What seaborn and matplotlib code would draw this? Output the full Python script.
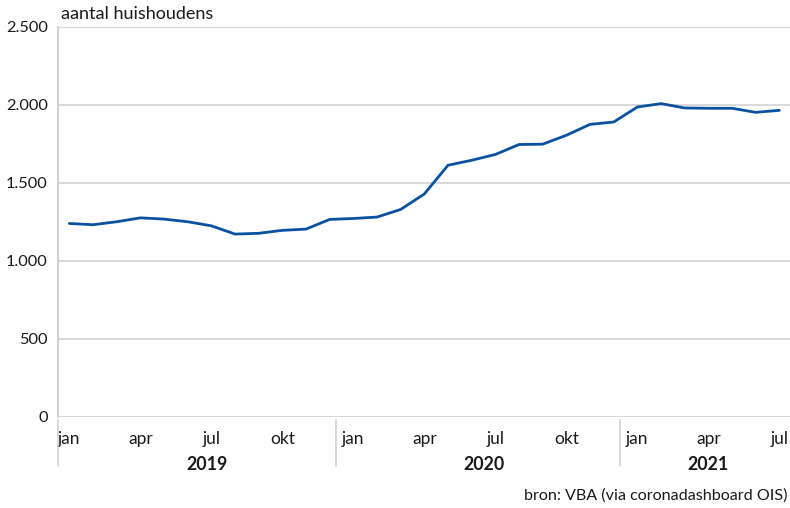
import numpy as np
import pandas as pd
import matplotlib.pyplot as plt
import matplotlib.transforms as mtransforms
import seaborn as sns

jaren = ['2019'] * 12 + ['2020'] * 12 + ['2021'] * 7
maanden = ['jan', 'feb', 'mrt', 'apr', 'mei', 'jun', 'jul', 'aug', 'sep', 'okt', 'nov', 'dec'] * 2 + \
          ['jan', 'feb', 'mrt', 'apr', 'mei', 'jun', 'jul']
huishoudens = [1238, 1230, 1249, 1274, 1266, 1249, 1223, 1170, 1175, 1194, 1202, 1264,
               1270, 1279, 1328, 1427, 1611, 1643, 1680, 1744, 1746, 1803, 1873, 1888,
               1984, 2006, 1978, 1976, 1976, 1950, 1963]
getoonde_maanden = ['jan', 'apr', 'jul', 'okt']
y_ticks = [0, 500, 1000, 1500, 2000, 2500]

df = pd.DataFrame({'jaar': jaren, 'maand': maanden, 'aantal': huishoudens})
df['pos'] = np.arange(len(df))

sns.set_style('white')
plt.rcParams['font.family'] = ['Lato', 'DejaVu Sans']

fig = plt.figure(figsize=(7.9, 5.08), dpi=100)
ax = fig.add_axes([57.5 / 790, 1 - 416.7 / 508, 1 - 57.5 / 790, (416.7 - 26.5) / 508])

sns.lineplot(data=df, x='pos', y='aantal', color='#0a52a1', linewidth=2.0, ax=ax)

grid_kleur = '#d2d2d2'
ax.set_ylim(0, 2500)
ax.set_xlim(-0.5, 30.45)
ax.set_yticks(y_ticks)
ax.set_yticklabels([f'{v:,}'.replace(',', '.') for v in y_ticks])
ax.yaxis.grid(True, color=grid_kleur, linewidth=1.2)
ax.set_axisbelow(True)
for s in ['top', 'right', 'bottom']:
    ax.spines[s].set_visible(False)
ax.spines['left'].set_color(grid_kleur)
ax.spines['left'].set_linewidth(1.4)
ax.tick_params(axis='y', length=0, pad=7, labelsize=11.8, labelcolor='#1a1a1a')

sel = df[df['maand'].isin(getoonde_maanden)]
ax.set_xticks(sel['pos'])
ax.set_xticklabels(sel['maand'])
ax.tick_params(axis='x', length=0, pad=10, labelsize=12.5, labelcolor='#1a1a1a')
ax.set_xlabel('')
ax.set_ylabel('')

trans = mtransforms.blended_transform_factory(ax.transData, fig.transFigure)
scheidingen = [-0.5, 11.27, 23.25]
for x in scheidingen:
    ax.plot([x, x], [1 - 420 / 508, 1 - 466 / 508], color=grid_kleur, linewidth=1.2,
            transform=trans, clip_on=False)

for jaar, groep in df.groupby('jaar'):
    midden = (groep['pos'].min() + groep['pos'].max()) / 2
    if jaar == '2019':
        midden += 0.3
    ax.text(midden, 1 - 464 / 508, jaar, transform=trans, ha='center', va='center',
            fontsize=12.8, fontweight='bold', color='#1a1a1a')

fig.text(61 / 790, 1 - 14 / 508, 'aantal huishoudens', ha='left', va='center',
         fontsize=13, color='#1a1a1a')
fig.text(788 / 790, 1 - 496 / 508, 'bron: VBA (via coronadashboard OIS)', ha='right',
         va='center', fontsize=11.6, color='#1a1a1a')

fig.savefig('out.png', dpi=100)
